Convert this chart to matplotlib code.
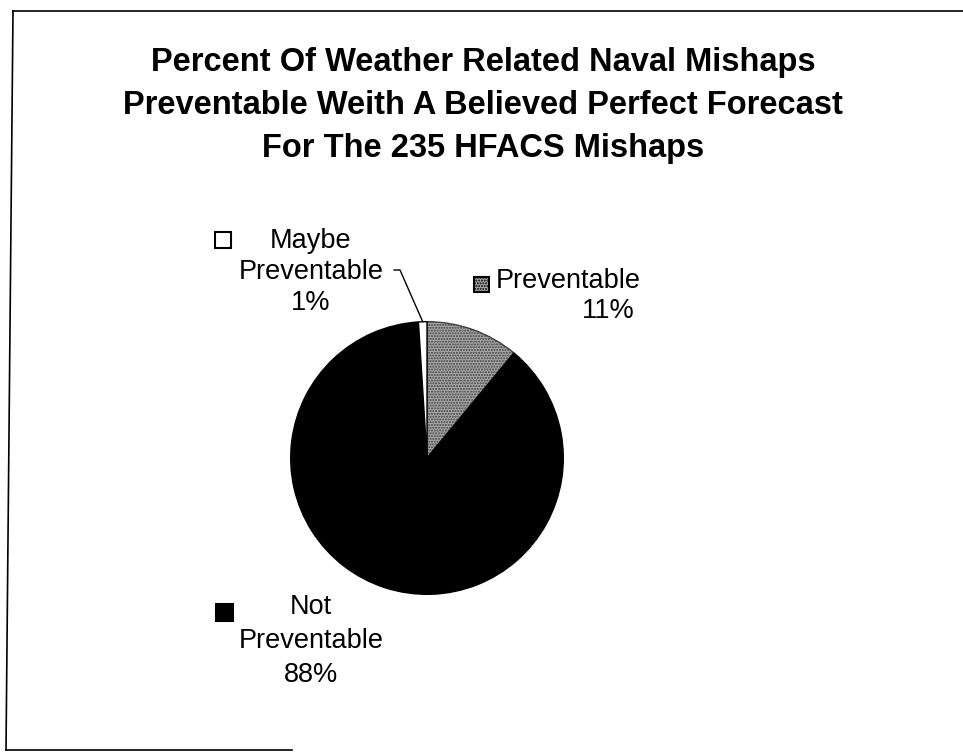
import matplotlib.pyplot as plt
from matplotlib.patches import Rectangle
from matplotlib.lines import Line2D
import numpy as np

plt.rcParams['font.family'] = ['Liberation Sans', 'DejaVu Sans']

# chart data
title_lines = ['Percent Of Weather Related Naval Mishaps',
               'Preventable Weith A Believed Perfect Forecast',
               'For The 235 HFACS Mishaps']
categories = ['Preventable', 'Not Preventable', 'Maybe Preventable']
percents = [11, 88, 1]

W, H = 963, 755


def px(x, y):
    # pixel coords (top-left origin) -> figure fraction
    return x / W, 1 - y / H


fig = plt.figure(figsize=(W / 100, H / 100), dpi=100)

# page border (scanned, slightly skewed)
for xs, ys in [([13, 963], [11, 11]), ([13, 6], [11, 750]), ([6, 292], [750, 750])]:
    p = [px(x, y) for x, y in zip(xs, ys)]
    fig.add_artist(Line2D([p[0][0], p[1][0]], [p[0][1], p[1][1]],
                          transform=fig.transFigure, color='black', lw=1.2))

# title
for i, line in enumerate(title_lines):
    x, y = px(483, 62 + i * 43)
    fig.text(x, y, line, ha='center', va='center', fontsize=23.5, fontweight='bold')

# pie
cx, cy, r = 427, 458, 137
l, b = px(cx - r, cy + r)
ax = fig.add_axes([l, b, 2 * r / W, 2 * r / H])
wedges, _ = ax.pie(percents, startangle=90, counterclock=False,
                   colors=['#a8a8a8', 'black', 'white'],
                   wedgeprops=dict(edgecolor='black', linewidth=1, clip_on=False))
wedges[0].set_hatch('......')
wedges[0].set_edgecolor('#404040')
ax.set_xlim(-1.005, 1.005)
ax.set_ylim(-1.005, 1.005)
ax.axis('off')

lab_fs = 19.5

# Maybe Preventable label
for txt, yy in zip(['Maybe', 'Preventable', f'{percents[2]}%'], [241, 272, 303]):
    x, y = px(311, yy)
    fig.text(x, y, txt, ha='center', va='center', fontsize=lab_fs)
# leader line to the sliver
mid = 90 - (percents[0] + percents[1] + percents[2] / 2) / 100 * 360
wx, wy = np.cos(np.radians(mid)), np.sin(np.radians(mid))
tx, ty = fig.transFigure.inverted().transform(ax.transData.transform((wx, wy)))
p1, p2 = px(394, 270), px(400, 270)
fig.add_artist(Line2D([p1[0], p2[0], tx], [p1[1], p2[1], ty],
                      transform=fig.transFigure, color='black', lw=1))

# Preventable label
x, y = px(568, 281)
fig.text(x, y, categories[0], ha='center', va='center', fontsize=lab_fs)
x, y = px(608, 311)
fig.text(x, y, f'{percents[0]}%', ha='center', va='center', fontsize=lab_fs)

# Not Preventable label
for txt, yy in zip(['Not', 'Preventable', f'{percents[1]}%'], [607, 641, 675]):
    x, y = px(311, yy)
    fig.text(x, y, txt, ha='center', va='center', fontsize=lab_fs)

# legend keys next to labels
for (kx, ky, s), w in zip([(481, 284, 15), (224, 612, 17), (223, 240, 16)], wedges):
    x0, y0 = px(kx - s / 2, ky + s / 2)
    rect = Rectangle((x0, y0), s / W, s / H, transform=fig.transFigure,
                     facecolor=w.get_facecolor(), edgecolor='black', lw=1.5,
                     hatch=w.get_hatch())
    fig.add_artist(rect)

fig.savefig('out.png', dpi=100)
